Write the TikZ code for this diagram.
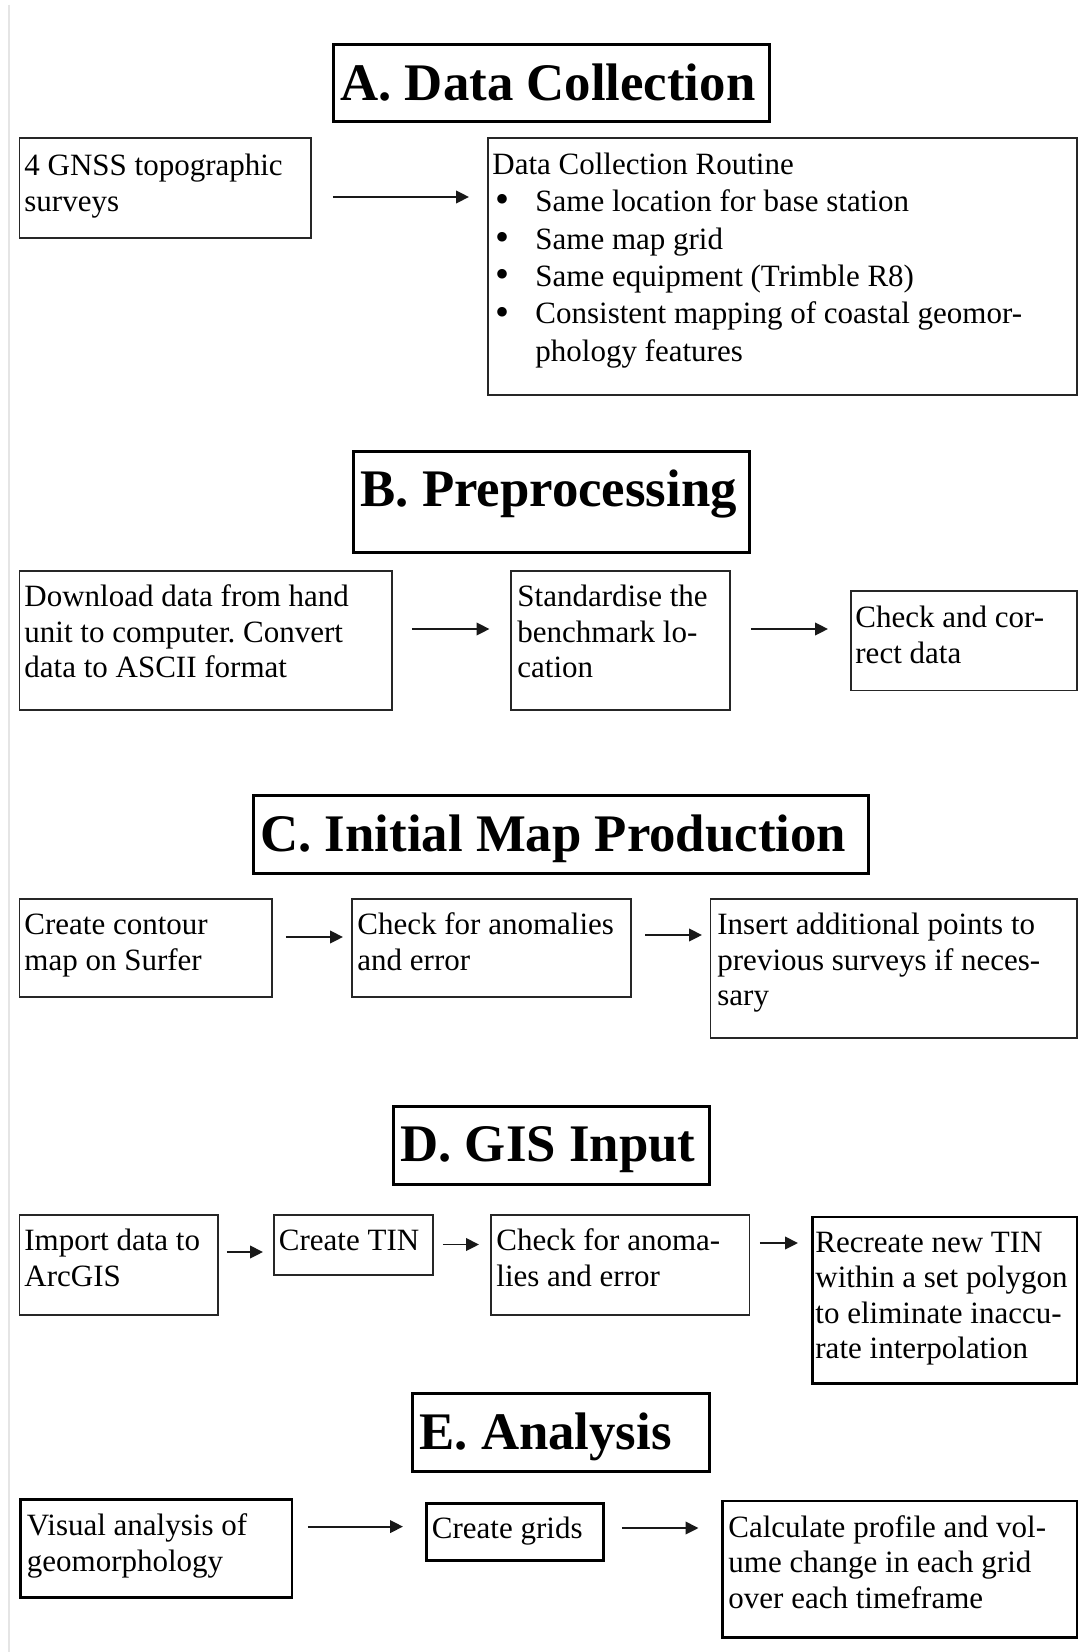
\documentclass[tikz,border=0pt]{standalone}
\usepackage{fontspec}
\setmainfont{Liberation Serif}
\usetikzlibrary{arrows.meta,calc}
\frenchspacing
\newcommand\mybul{\makebox[21.5pt][l]{\hspace{1.5pt}\raisebox{-0.6pt}{\fontsize{20pt}{20pt}\selectfont\textbullet}}}
\begin{document}
\begin{tikzpicture}[x=0.5pt,y=-0.5pt,
  box/.style={draw=black!85, line width=0.9pt, inner sep=0pt, anchor=north west},
  thickbox/.style={box, draw=black, line width=1.4pt},
  titlebox/.style={box, draw=black, line width=1.5pt},
  body/.style={inner sep=0pt, anchor=north west, align=left, font=\fontsize{15.5pt}{17.8pt}\selectfont},
  ttl/.style={inner sep=0pt, anchor=base west, font=\fontsize{26.4pt}{30pt}\selectfont\bfseries},
  arr/.style={line width=0.9pt, draw=black!90, -{Triangle[length=6.5pt,width=6.3pt]}}
]
\path[use as bounding box, fill=white] (0,0) rectangle (1077,1652);
\draw[line width=1pt, draw=black!10] (9,5) -- (9,1652);

% ---------- A ----------
\node[titlebox, minimum width=218pt, minimum height=38.65pt] (TA) at (332,42.7) {};
\node[ttl] (TAt) at (340,101) {A. Data Collection};
\node[box, minimum width=145.75pt, minimum height=50pt] (A1) at (18.5,137) {};
\node[body] (tA1) at (24,150.1) {\strut 4 GNSS topographic\\surveys};
\node[box, minimum width=294.5pt, minimum height=128.5pt] (A2) at (487,137) {};
\node[body, font=\fontsize{15.5pt}{18.7pt}\selectfont] (tA2) at (492,147.8) {\strut Data Collection Routine\\
\mybul Same location for base station\\
\mybul Same map grid\\
\mybul Same equipment (Trimble R8)\\
\mybul Consistent mapping of coastal geomor-\\
\hspace*{21.5pt}phology features};
\coordinate (yA) at (0,197);
\draw[arr] ($(A1.east |- yA)+(21,0)$) -- ($(A2.west |- yA)+(-18,0)$);

% ---------- B ----------
\node[titlebox, minimum width=198pt, minimum height=50.5pt] (TB) at (352,450) {};
\node[ttl] (TBt) at (360,506.5) {B. Preprocessing};
\node[box, minimum width=186.25pt, minimum height=69.5pt] (B1) at (18.5,570) {};
\node[body] (tB1) at (24,581.1) {\strut Download data from hand\\unit to computer. Convert\\data to ASCII format};
\node[box, minimum width=109.5pt, minimum height=69.5pt] (B2) at (510,570) {};
\node[body] (tB2) at (517,581.1) {\strut Standardise the\\benchmark lo-\\cation};
\node[box, minimum width=113pt, minimum height=49.75pt] (B3) at (850,590) {};
\node[body] (tB3) at (855,602.1) {\strut Check and cor-\\rect data};
\coordinate (yB) at (0,629);
\draw[arr] ($(B1.east |- yB)+(19,0)$) -- ($(B2.west |- yB)+(-20.5,0)$);
\draw[arr] ($(B2.east |- yB)+(20,0)$) -- ($(B3.west |- yB)+(-22,0)$);

% ---------- C ----------
\node[titlebox, minimum width=307.5pt, minimum height=39pt] (TC) at (252,794) {};
\node[ttl] (TCt) at (260,851) {C. Initial Map Production};
\node[box, minimum width=126.25pt, minimum height=49pt] (C1) at (18.5,898) {};
\node[body] (tC1) at (24,909.1) {\strut Create contour\\map on Surfer};
\node[box, minimum width=139.5pt, minimum height=49pt] (C2) at (351,898) {};
\node[body] (tC2) at (357,909.1) {\strut Check for anomalies\\and error};
\node[box, minimum width=183.25pt, minimum height=69.5pt] (C3) at (709.5,898) {};
\node[body] (tC3) at (717,909.1) {\strut Insert additional points to\\previous surveys if neces-\\sary};
\coordinate (yC1) at (0,937);
\coordinate (yC2) at (0,935);
\draw[arr] ($(C1.east |- yC1)+(13,0)$) -- ($(C2.west |- yC1)+(-8,0)$);
\draw[arr] ($(C2.east |- yC2)+(13.5,0)$) -- ($(C3.west |- yC2)+(-7.5,0)$);

% ---------- D ----------
\node[titlebox, minimum width=158.25pt, minimum height=39pt] (TD) at (391.5,1105) {};
\node[ttl] (TDt) at (400,1161.5) {D. GIS Input};
\node[box, minimum width=99.25pt, minimum height=50pt] (D1) at (18.5,1214) {};
\node[body] (tD1) at (24,1225.6) {\strut Import data to\\ArcGIS};
\node[box, minimum width=79.65pt, minimum height=30pt] (D2) at (272.7,1214) {};
\node[body] (tD2) at (278.5,1225.1) {\strut Create TIN};
\node[box, minimum width=129.3pt, minimum height=50pt] (D3) at (490,1214) {};
\node[body] (tD3) at (496,1225.1) {\strut Check for anoma-\\lies and error};
\node[thickbox, minimum width=132.5pt, minimum height=83.25pt] (D4) at (811,1215.5) {};
\node[body] (tD4) at (815,1226.7) {\strut Recreate new TIN\\within a set polygon\\to eliminate inaccu-\\rate interpolation};
\coordinate (yD1) at (0,1252);
\coordinate (yD2) at (0,1244.5);
\coordinate (yD3) at (0,1243);
\draw[arr] ($(D1.east |- yD1)+(8,0)$) -- ($(D2.west |- yD1)+(-9.7,0)$);
\draw[arr] ($(D2.east |- yD2)+(9,0)$) -- ($(D3.west |- yD2)+(-11,0)$);
\draw[arr] ($(D3.east |- yD3)+(9.4,0)$) -- ($(D4.west |- yD3)+(-13,0)$);

% ---------- E ----------
\node[titlebox, minimum width=148.5pt, minimum height=39pt] (TE) at (411,1391.5) {};
\node[ttl] (TEt) at (419,1449.5) {E. Analysis};
\node[thickbox, minimum width=135.75pt, minimum height=49pt] (E1) at (19,1498) {};
\node[body] (tE1) at (26.5,1510.1) {\strut Visual analysis of\\geomorphology};
\node[thickbox, minimum width=88.5pt, minimum height=28.65pt] (E2) at (425,1501.7) {};
\node[body] (tE2) at (431.5,1513.1) {\strut Create grids};
\node[thickbox, minimum width=177.5pt, minimum height=68.25pt] (E3) at (721,1499.5) {};
\node[body] (tE3) at (728,1511.8) {\strut Calculate profile and vol-\\ume change in each grid\\over each timeframe};
\coordinate (yE1) at (0,1526.6);
\coordinate (yE2) at (0,1528);
\draw[arr] ($(E1.east |- yE1)+(14.5,0)$) -- ($(E2.west |- yE1)+(-22,0)$);
\draw[arr] ($(E2.east |- yE2)+(17,0)$) -- ($(E3.west |- yE2)+(-22.5,0)$);
\end{tikzpicture}
\end{document}
